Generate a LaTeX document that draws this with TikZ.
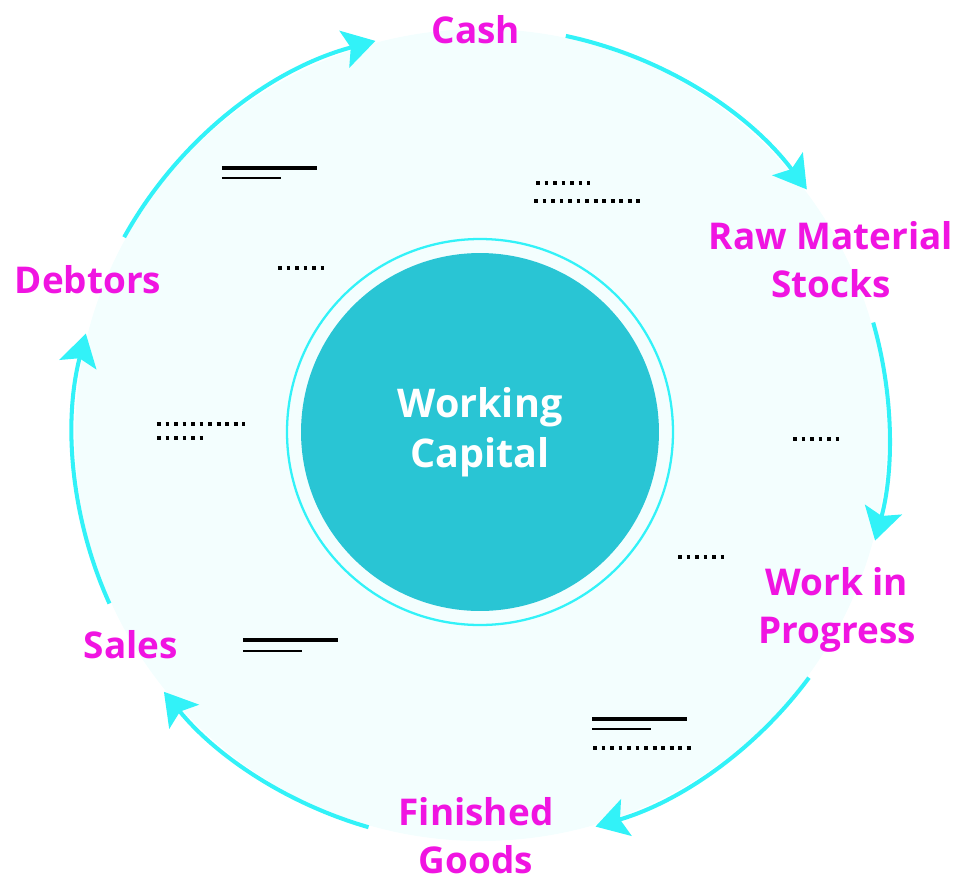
\documentclass[tikz,border=0pt]{standalone}
\usepackage{fontspec}
\setmainfont{Open Sans}
\usetikzlibrary{arrows.meta}
\definecolor{flowcyan}{RGB}{50,242,248}
\definecolor{hubteal}{RGB}{41,197,212}
\definecolor{palecyan}{RGB}{243,254,254}
\definecolor{stagepink}{RGB}{240,20,225}
\begin{document}
\begin{tikzpicture}[x=0.02cm,y=0.02cm,
		stage/.style={text=stagepink,font=\bfseries\fontsize{21}{27.3}\selectfont,align=center,inner sep=0pt},
		flow/.style={flowcyan,line width=2.3pt,-{Stealth[length=0.64cm,width=0.76cm,inset=0.13cm]}},
		blank/.style={line width=2pt},
		thinblank/.style={line width=1.3pt},
		dots/.style={line width=2.3pt,dash pattern=on 2.2pt off 2.65pt}]
		\useasboundingbox (-481,-445) rectangle (478,435);
		\coordinate (o) at (0,0);
		\fill[palecyan] (o) circle[radius=406];
		\node[circle,fill=hubteal,minimum size=7.16cm,inner sep=0pt,text=white,align=center,
		font=\bfseries\fontsize{22.5}{28.5}\selectfont] (wc) at (-1,3) {Working\\Capital};
		\draw[flowcyan,line width=1.3pt] (wc.center) circle[radius=193];
		\node[stage] (cash) at (-5,405) {Cash};
		\node[stage] (raw) at (350,175) {Raw Material\\Stocks};
		\node[stage] (wip) at (356,-175) {Work in\\Progress};
		\node[stage] (goods) at (-5,-401) {Finished\\Goods};
		\node[stage] (sales) at (-350,-210) {Sales};
		\node[stage] (debtors) at (-393,155) {Debtors};
		\foreach \a/\b in {78/37,16/-15,-36.5/-73.7,-106/-141,-155.6/-194.4,151/105}
		\draw[flow] ([shift={(\a:408)}]o) arc[start angle=\a,end angle=\b,radius=408];
		\draw[blank] (-259,267) -- (-164,267);
		\draw[thinblank] (-259,257) -- (-200,257);
		\draw[dots] (-203,167) -- (-153,167);
		\draw[dots] (55,252) -- (109,252);
		\draw[dots] (53,234) -- (160,234);
		\draw[dots] (-324,11) -- (-236,11);
		\draw[dots] (-324,-3) -- (-273,-3);
		\draw[dots] (312,-4) -- (363,-4);
		\draw[dots] (197,-122) -- (247,-122);
		\draw[blank] (-238,-205) -- (-143,-205);
		\draw[thinblank] (-238,-216) -- (-179,-216);
		\draw[blank] (111,-284) -- (206,-284);
		\draw[thinblank] (111,-294) -- (170,-294);
		\draw[dots] (112,-313) -- (212,-313);
	\end{tikzpicture}
\end{document}
